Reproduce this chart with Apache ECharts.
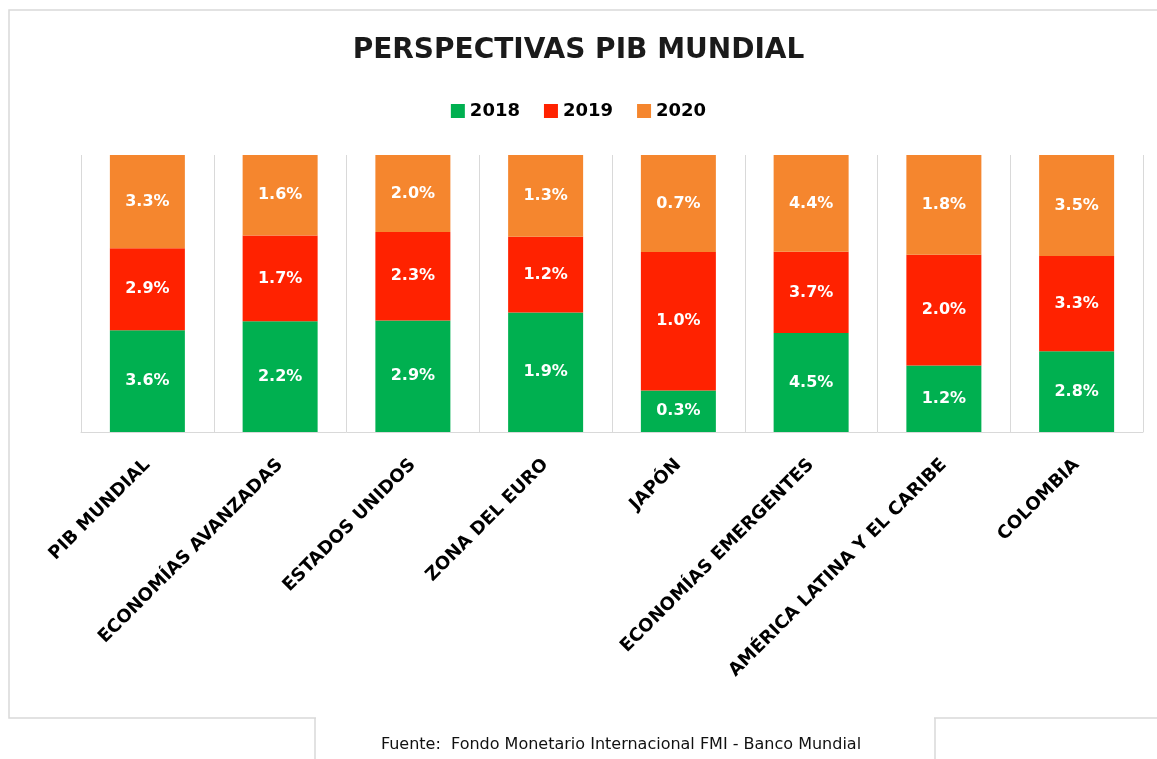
<!DOCTYPE html>
<html>
<head>
<meta charset="UTF-8">
<title>Perspectivas PIB Mundial</title>
<script src="https://cdn.jsdelivr.net/npm/echarts@6/dist/echarts.min.js"></script>
<style>
  html, body { margin: 0; padding: 0; background: #fff; }
  #chart { width: 1157px; height: 759px; }
</style>
</head>
<body>
<div id="chart"></div>
<script>
  // datos (crecimiento del PIB, %)
  var regiones = ['PIB MUNDIAL', 'ECONOMÍAS AVANZADAS', 'ESTADOS UNIDOS', 'ZONA DEL EURO',
    'JAPÓN', 'ECONOMÍAS EMERGENTES', 'AMÉRICA LATINA Y EL CARIBE', 'COLOMBIA'];
  var pib2018 = [3.6, 2.2, 2.9, 1.9, 0.3, 4.5, 1.2, 2.8];
  var pib2019 = [2.9, 1.7, 2.3, 1.2, 1.0, 3.7, 2.0, 3.3];
  var pib2020 = [3.3, 1.6, 2.0, 1.3, 0.7, 4.4, 1.8, 3.5];
  var anios = ['2018', '2019', '2020'];
  var colores = ['#00B050', '#FF2200', '#F5862E'];

  var chart = echarts.init(document.getElementById('chart'));

  // barras al 100%: cada columna se reparte según su total
  var totales = regiones.map(function (r, i) { return pib2018[i] + pib2019[i] + pib2020[i]; });
  function serie(nombre, valores, color) {
    return {
      name: nombre,
      type: 'bar',
      stack: 'total',
      barWidth: 75,
      itemStyle: { color: color },
      label: {
        show: true,
        position: 'inside',
        color: '#fff',
        fontFamily: 'DejaVu Sans',
        fontWeight: 'bold',
        fontSize: 16,
        formatter: function (p) { return valores[p.dataIndex].toFixed(1) + '%'; }
      },
      data: valores.map(function (v, i) { return v / totales[i] * 100; })
    };
  }

  var option = {
    backgroundColor: '#fff',
    animation: false,
    title: {
      text: 'PERSPECTIVAS PIB MUNDIAL',
      left: 'center',
      top: 32,
      textStyle: { fontFamily: 'DejaVu Sans', fontWeight: 'bold', fontSize: 28, color: '#1a1a1a' }
    },
    legend: {
      data: anios,
      top: 97,
      left: 'center',
      icon: 'rect',
      itemWidth: 14,
      itemHeight: 14,
      itemGap: 24,
      textStyle: { fontFamily: 'DejaVu Sans', fontWeight: 'bold', fontSize: 18, color: '#000' }
    },
    grid: { left: 81, right: 14, top: 155, bottom: 327 },
    xAxis: {
      type: 'category',
      data: regiones,
      axisLine: { lineStyle: { color: '#d9d9d9' } },
      axisTick: { show: false },
      splitLine: { show: true, lineStyle: { color: '#d9d9d9' } },
      axisLabel: {
        rotate: 45,
        interval: 0,
        margin: 30,
        color: '#000',
        fontFamily: 'DejaVu Sans',
        fontWeight: 'bold',
        fontSize: 18
      }
    },
    yAxis: { type: 'value', min: 0, max: 100, show: false },
    series: [
      serie(anios[0], pib2018, colores[0]),
      serie(anios[1], pib2019, colores[1]),
      serie(anios[2], pib2020, colores[2])
    ],
    graphic: [
      { type: 'rect', shape: { x: 9, y: 10, width: 1160, height: 708 },
        style: { fill: 'none', stroke: '#d9d9d9', lineWidth: 1.5 }, z: 0, silent: true },
      { type: 'rect', shape: { x: 316, y: 714, width: 618, height: 45 },
        style: { fill: '#fff' }, z: 1, silent: true },
      { type: 'polyline', shape: { points: [[315, 718], [315, 759]] },
        style: { stroke: '#d9d9d9', lineWidth: 1.5 }, z: 1, silent: true },
      { type: 'polyline', shape: { points: [[935, 718], [935, 759]] },
        style: { stroke: '#d9d9d9', lineWidth: 1.5 }, z: 1, silent: true },
      { type: 'text', x: 621, y: 745, z: 2,
        style: { text: 'Fuente:  Fondo Monetario Internacional FMI - Banco Mundial',
          fill: '#111', fontFamily: 'DejaVu Sans', fontSize: 16, align: 'center', verticalAlign: 'middle' } }
    ]
  };
  chart.setOption(option);
</script>
</body>
</html>
